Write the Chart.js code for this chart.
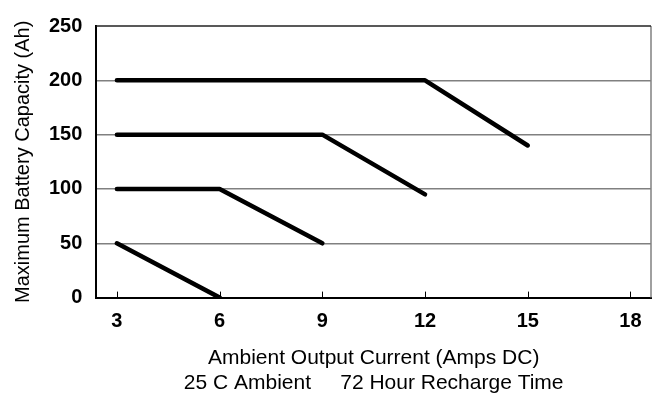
<!DOCTYPE html>
<html>
<head>
<meta charset="utf-8">
<script src="https://cdn.jsdelivr.net/npm/chart.js@4/dist/chart.umd.min.js"></script>
<style>
  html, body { margin: 0; padding: 0; background: #fff; }
  .canvas-box { width: 662px; height: 405px; }
</style>
</head>
<body>
<div class="canvas-box">
  <canvas id="capChart" width="662" height="405"></canvas>
</div>
<script>
// current (A) and capacity (Ah) for each battery curve
const current1 = [3, 6];
const capacity1 = [50, 0];
const current2 = [3, 6, 9];
const capacity2 = [100, 100, 50];
const current3 = [3, 9, 12];
const capacity3 = [150, 150, 95];
const current4 = [3, 12, 15];
const capacity4 = [200, 200, 140];

const xTicks = [3, 6, 9, 12, 15, 18];
const yTicks = [0, 50, 100, 150, 200, 250];

const toPoints = (xs, ys) => xs.map((x, i) => ({ x: x, y: ys[i] }));

const makeSet = (xs, ys) => ({
  data: toPoints(xs, ys),
  borderColor: '#000',
  borderWidth: 4.5,
  pointRadius: 0,
  fill: false,
  tension: 0,
  borderCapStyle: 'round',
  borderJoinStyle: 'round',
});

// frame + inward x ticks like the original
const framePlugin = {
  id: 'frame',
  afterDraw(chart) {
    const { ctx, chartArea } = chart;
    const xs = chart.scales.x;
    ctx.save();
    ctx.strokeStyle = '#808080';
    ctx.lineWidth = 1.5;
    ctx.beginPath();
    ctx.moveTo(chartArea.right, chartArea.top);
    ctx.lineTo(chartArea.right, chartArea.bottom);
    ctx.stroke();
    ctx.strokeStyle = '#222';
    ctx.beginPath();
    ctx.moveTo(chartArea.left, chartArea.top);
    ctx.lineTo(chartArea.right, chartArea.top);
    ctx.stroke();
    ctx.strokeStyle = '#000';
    ctx.lineWidth = 1;
    xTicks.forEach(v => {
      const px = Math.round(xs.getPixelForValue(v)) + 0.5;
      ctx.beginPath();
      ctx.moveTo(px, chartArea.bottom);
      ctx.lineTo(px, chartArea.bottom - 6);
      ctx.stroke();
    });
    ctx.restore();
  }
};

const ctx = document.getElementById('capChart').getContext('2d');
new Chart(ctx, {
  type: 'line',
  data: {
    datasets: [
      makeSet(current1, capacity1),
      makeSet(current2, capacity2),
      makeSet(current3, capacity3),
      makeSet(current4, capacity4),
    ],
  },
  options: {
    responsive: false,
    animation: false,
    layout: { padding: { top: 22, right: 11, left: 11, bottom: 9 } },
    plugins: {
      legend: { display: false },
      tooltip: { enabled: false },
    },
    scales: {
      x: {
        type: 'linear',
        min: 2.4,
        max: 18.6,
        afterBuildTicks: axis => { axis.ticks = xTicks.map(v => ({ value: v })); },
        grid: { display: false, drawTicks: false },
        border: { display: true, color: '#000', width: 2 },
        ticks: {
          color: '#000',
          padding: 12,
          maxRotation: 0,
          font: { family: 'Liberation Sans, Arial', size: 20, weight: 'bold' },
        },
        title: {
          display: true,
          text: ['Ambient Output Current (Amps DC)', '25 C Ambient     72 Hour Recharge Time'],
          color: '#000',
          padding: { top: 0, bottom: 0 },
          font: { family: 'Liberation Sans, Arial', size: 21, lineHeight: 1.2 },
        },
      },
      y: {
        min: 0,
        max: 250,
        afterBuildTicks: axis => { axis.ticks = yTicks.map(v => ({ value: v })); },
        grid: {
          drawTicks: false,
          lineWidth: 1.5,
          color: c => (c.tick.value === 0 || c.tick.value === 250) ? 'rgba(0,0,0,0)' : '#808080',
        },
        border: { display: true, color: '#000', width: 2 },
        ticks: {
          color: '#000',
          padding: 14,
          font: { family: 'Liberation Sans, Arial', size: 20, weight: 'bold' },
        },
        title: {
          display: true,
          text: 'Maximum Battery Capacity (Ah)',
          color: '#000',
          padding: { top: 0, bottom: 0 },
          font: { family: 'Liberation Sans, Arial', size: 20 },
        },
      },
    },
  },
  plugins: [framePlugin],
});
</script>
</body>
</html>
